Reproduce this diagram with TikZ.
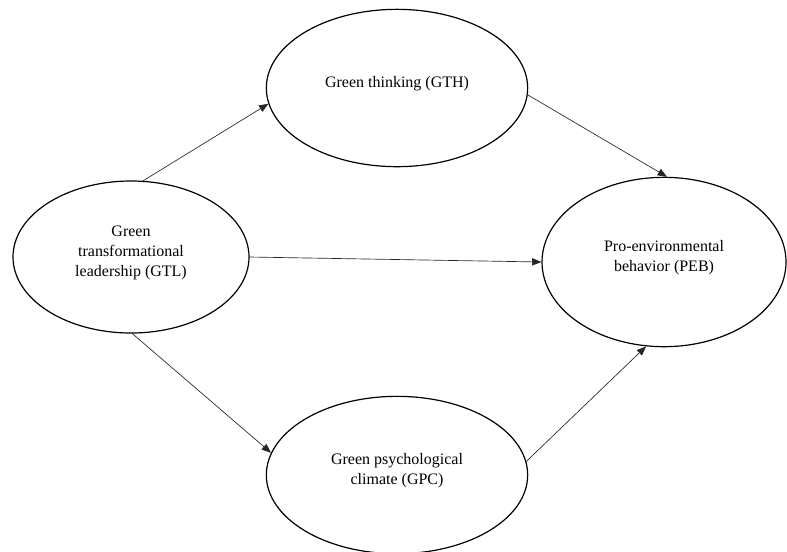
\documentclass[tikz,border=0pt]{standalone}
\usepackage{fontspec}
\setmainfont{Liberation Serif}
\usetikzlibrary{shapes.geometric, arrows.meta}

\begin{document}
\begin{tikzpicture}[x=0.75pt, y=-0.75pt,%
  construct/.style={ellipse, draw=black, line width=0.9pt, inner sep=0pt, align=center,
    text depth=9pt, font=\fontsize{12}{15}\selectfont},
  link/.style={-{Triangle[length=7pt, width=5.5pt]}, draw=black!85, line width=0.5pt}
  ]
  \useasboundingbox (0,0) rectangle (787,551);
  \node[construct, minimum width=177pt, minimum height=114pt] (gtl) at (131,257) {Green\\transformational\\leadership (GTL)};
  \node[construct, minimum width=196pt, minimum height=118pt] (gth) at (397,88) {Green thinking (GTH)};
  \node[construct, minimum width=183pt, minimum height=127pt] (peb) at (664,262) {Pro-environmental\\behavior (PEB)};
  \node[construct, minimum width=196pt, minimum height=118pt] (gpc) at (397,475) {Green psychological\\climate (GPC)};
    \draw[link] (gtl.81) -- (gth.187);
    \draw[link] (gtl.0) -- (peb.180);
    \draw[link] (gtl.-89) -- (gpc.170);
    \draw[link] (gth.-3) -- (peb.88);
    \draw[link] (gpc.6.5) -- (peb.-102);
  \end{tikzpicture}
\end{document}
